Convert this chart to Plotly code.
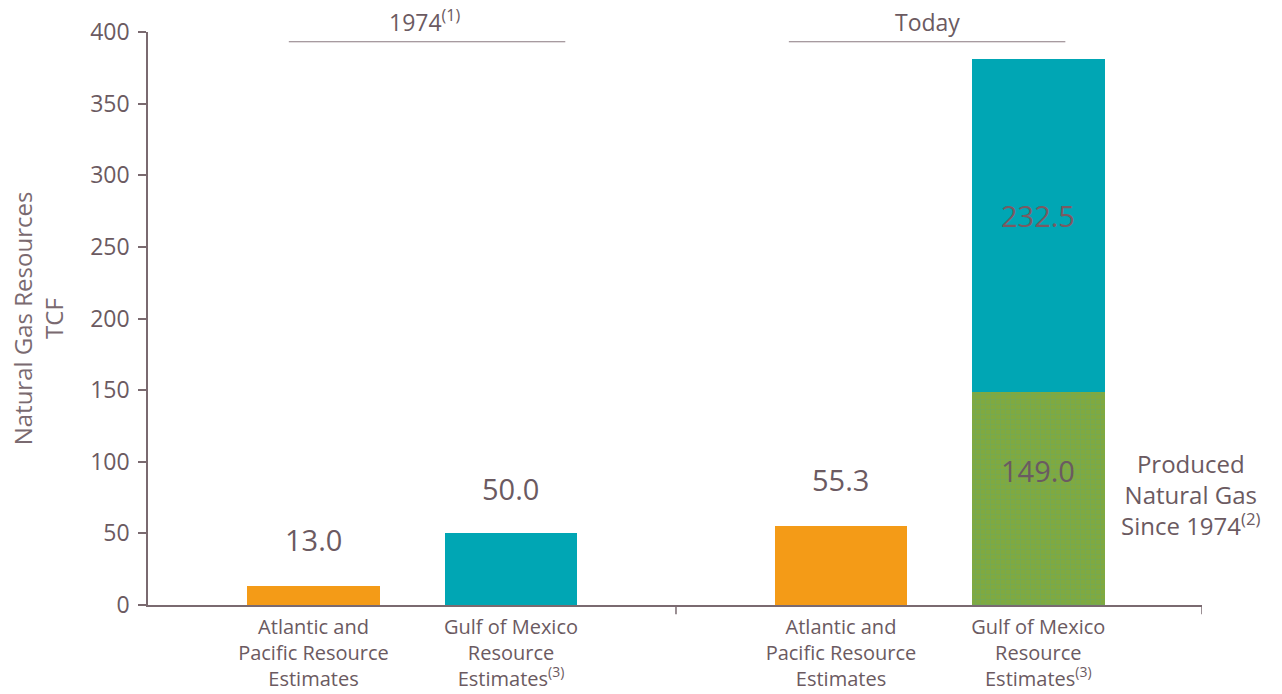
import plotly.graph_objects as go

# ---- data ----
categories = ["Atlantic and<br>Pacific Resource<br>Estimates",
              "Gulf of Mexico<br>Resource<br>Estimates<sup>(3)</sup>",
              "Atlantic and<br>Pacific Resource<br>Estimates",
              "Gulf of Mexico<br>Resource<br>Estimates<sup>(3)</sup>"]
positions = [0, 1, 2.671, 3.67]
atlantic_pacific = [13.0, 55.3]          # 1974, Today
gulf_remaining = [50.0, 232.5]           # 1974, Today
produced_since_1974 = [149.0]            # Today (Gulf)
groups = ["1974<sup>(1)</sup>", "Today"]
y_ticks = [0, 50, 100, 150, 200, 250, 300, 350, 400]

TXT = "#6b5a61"
ORANGE = "#f49b17"
TEAL = "#00a6b4"
GREEN = "#80a940"
FONT = "Open Sans"

ap_x = [positions[0], positions[2]]
gulf_x = [positions[1], positions[3]]
w = 0.673

fig = go.Figure()
fig.add_trace(go.Bar(x=ap_x, y=atlantic_pacific, width=w, marker=dict(color=ORANGE, line=dict(width=0)),
                     hoverinfo="y"))
fig.add_trace(go.Bar(x=[positions[3]], y=produced_since_1974, width=w,
                     marker=dict(color=GREEN, line=dict(width=0),
                                 pattern=dict(shape="+", fgcolor="#62a86a", bgcolor=GREEN, size=5, solidity=0.25)),
                     hoverinfo="y"))
fig.add_trace(go.Bar(x=gulf_x, y=gulf_remaining, width=w, marker=dict(color=TEAL, line=dict(width=0)),
                     hoverinfo="y"))

VSIZE = 29
ann = []
for x, v in zip(ap_x, atlantic_pacific):
    ann.append(dict(x=x, y=v, text=f"{v:.1f}", showarrow=False, yanchor="bottom", yshift=25,
                    font=dict(size=VSIZE, color=TXT, family=FONT)))
ann.append(dict(x=gulf_x[0], y=gulf_remaining[0], text=f"{gulf_remaining[0]:.1f}", showarrow=False,
                yanchor="bottom", yshift=23, font=dict(size=VSIZE, color=TXT, family=FONT)))
ann.append(dict(x=gulf_x[1], y=produced_since_1974[0] + gulf_remaining[1] / 2, text=f"{gulf_remaining[1]:.1f}",
                showarrow=False, yshift=10, font=dict(size=VSIZE, color="#7a5a62", family=FONT)))
ann.append(dict(x=gulf_x[1], y=produced_since_1974[0] / 2, text=f"{produced_since_1974[0]:.1f}",
                showarrow=False, yshift=28, font=dict(size=VSIZE, color=TXT, family=FONT)))
ann.append(dict(x=4.445, y=produced_since_1974[0] * 0.52, text="Produced<br>Natural Gas<br>Since 1974<sup>(2)</sup>",
                showarrow=False, xanchor="center", font=dict(size=24, color=TXT, family=FONT)))
# group labels
group_centers = [0.565, 3.107]
for gx, g in zip(group_centers, groups):
    ann.append(dict(x=gx, y=1.0, yref="paper", text=g, showarrow=False, yanchor="bottom", yshift=-8,
                    font=dict(size=23, color=TXT, family=FONT)))

shapes = []
for gx in [0.575, 3.107]:
    shapes.append(dict(type="line", xref="x", yref="paper", x0=gx - 0.7, x1=gx + 0.7, y0=0.983, y1=0.983,
                       line=dict(color="#8a7a80", width=1.2)))
# divider ticks on the x axis
for dx in [(positions[1] + positions[2]) / 2, 4.499]:
    shapes.append(dict(type="line", xref="x", yref="paper", x0=dx, x1=dx, y0=0, y1=-0.016,
                       line=dict(color="#7a6a70", width=1.5)))

fig.update_layout(
    width=1282, height=694,
    margin=dict(l=148, r=80, t=32, b=89),
    paper_bgcolor="white", plot_bgcolor="white",
    barmode="stack", showlegend=False,
    font=dict(family=FONT, color=TXT),
    annotations=ann, shapes=shapes,
    xaxis=dict(range=[-0.838, 4.499], tickvals=positions, ticktext=categories, automargin=False,
               tickfont=dict(size=20, color=TXT, family=FONT), showgrid=False, zeroline=False,
               showline=True, linecolor="#7a6a70", linewidth=1.5, ticks="", ticklabelstandoff=3),
    yaxis=dict(range=[0, 400], tickvals=y_ticks, showgrid=False, zeroline=False, automargin=False,
               showline=True, linecolor="#7a6a70", linewidth=1.5, ticks="outside", ticklen=8,
               tickcolor="#7a6a70", tickwidth=1.5, tickfont=dict(size=23, color=TXT, family=FONT),
               ticklabelstandoff=4,
               title=dict(text="Natural Gas Resources<br>TCF", standoff=20,
                          font=dict(size=24, color="#7a6a70", family=FONT))),
)

fig.write_html("out.html")
